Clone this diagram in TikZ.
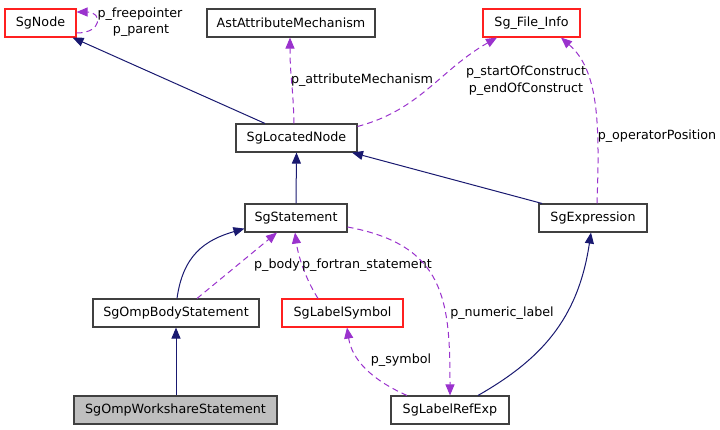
\documentclass[tikz,border=0pt]{standalone}
\usepackage{fontspec}
\setmainfont{DejaVu Sans}
\usetikzlibrary{arrows.meta}
\definecolor{navyc}{HTML}{191970}
\definecolor{purplec}{HTML}{9A32CD}
\definecolor{boxc}{HTML}{404040}
\definecolor{redc}{HTML}{FF2020}
\definecolor{grayfill}{HTML}{BFBFBF}
\begin{document}
\begin{tikzpicture}[x=1pt,y=-1pt,
  every node/.style={font=\fontsize{12.7}{14}\selectfont, inner sep=0pt},
  cls/.style={draw=boxc, line width=1.1pt, minimum height=28pt, fill=white},
  redcls/.style={cls, draw=redc},
  inh/.style={draw=navyc, line width=1pt, -{Triangle[length=11pt,width=9pt]}, color=navyc},
  usage/.style={draw=purplec, line width=1pt, dash pattern=on 6pt off 4pt, -{Triangle[length=11pt,width=9pt]}, color=purplec},
  lbl/.style={text=black}]
\useasboundingbox (0,0) rectangle (720,429);
% nodes
\node[redcls, minimum width=71pt] (sgnode) at (40.5,23) {SgNode};
\node[cls, minimum width=168pt] (ast) at (291,23) {AstAttributeMechanism};
\node[redcls, minimum width=97pt] (finfo) at (531.5,23) {Sg\_File\_Info};
\node[cls, minimum width=121pt] (ln) at (296.5,138) {SgLocatedNode};
\node[cls, minimum width=102pt] (st) at (296,218) {SgStatement};
\node[cls, minimum width=108pt] (ex) at (593,218) {SgExpression};
\node[cls, minimum width=166pt] (omp) at (176,313) {SgOmpBodyStatement};
\node[redcls, minimum width=121pt] (lsym) at (342.5,313) {SgLabelSymbol};
\node[cls, minimum width=203pt, fill=grayfill] (ws) at (175.5,410) {SgOmpWorkshareStatement};
\node[cls, minimum width=118pt] (lre) at (450,410) {SgLabelRefExp};
% coordinates on borders
\coordinate (lnA) at (ln.north -| 265,0);
\coordinate (lnB) at (ln.north -| 294,0);
\coordinate (lnC) at ([yshift=-3pt]ln.north east);
\coordinate (sgB) at ([yshift=-10pt]sgnode.east);
\coordinate (sgT) at ([yshift=11pt]sgnode.east);
\coordinate (astS) at (ast.south -| 290,0);
\coordinate (fiA) at (finfo.south -| 497,0);
\coordinate (fiB) at (finfo.south -| 561,0);
\coordinate (exA) at (ex.north -| 542,0);
\coordinate (exB) at (ex.north -| 597,0);
\coordinate (exS) at (ex.south -| 591,0);
\coordinate (lnS) at (ln.south -| 352,0);
\coordinate (stA) at ([yshift=4pt]st.south west);
\coordinate (stB) at (st.south -| 277,0);
\coordinate (stC) at (st.south -| 295,0);
\coordinate (stD) at ([yshift=-9pt]st.east);
\coordinate (ompA) at (omp.north -| 177,0);
\coordinate (ompB) at (omp.north -| 197,0);
\coordinate (lsA) at (lsym.north -| 318,0);
\coordinate (lsS) at (lsym.south -| 347,0);
\coordinate (lreA) at (lre.north -| 407,0);
\coordinate (lreB) at (lre.north -| 478,0);
% edges
\draw[inh] (lnA) -- ([xshift=-4pt]sgnode.south east);
\draw[usage] (sgB) .. controls +(26,0) and +(26,0) .. (sgT);
\node[lbl] (lfp) at (140,14) {p\_freepointer};
\node[lbl] (lpp) at (141,31) {p\_parent};
\draw[usage] (lnB) .. controls +(-1,-40) and +(0,40) .. (astS);
\node[lbl] (lam) at (362,80) {p\_attributeMechanism};
\draw[usage] (lnC) .. controls (420,110) and (440,70) .. (fiA);
\node[lbl] (lsc) at (526,72) {p\_startOfConstruct};
\node[lbl] (lec) at (526,89) {p\_endOfConstruct};
\draw[usage] (exB) .. controls (600,120) and (598,70) .. (fiB);
\node[lbl] (lop) at (657,136) {p\_operatorPosition};
\draw[inh] (exA) -- (lnS);
\draw[inh] (st.north) -- (ln.south);
\draw[inh] (ompA) .. controls (183,255) and (205,240) .. (stA);
\draw[usage] (ompB) -- (stB);
\node[lbl] (lbody) at (277,265) {p\_body};
\draw[usage] (lsA) .. controls (305,278) and (298,255) .. (stC);
\node[lbl] (lfs) at (367,265) {p\_fortran\_statement};
\draw[usage] (stD) .. controls (445,245) and (450,300) .. (lre.north -| 450,0);
\node[lbl] (lnl) at (502,313) {p\_numeric\_label};
\draw[usage] (lreA) .. controls (372,380) and (352,360) .. (lsS);
\node[lbl] (lsy) at (401,360) {p\_symbol};
\draw[inh] (ws.north -| 176,0) -- (omp.south -| 176,0);
\draw[inh] (lreB) .. controls (540,360) and (578,320) .. (exS);
\end{tikzpicture}
\end{document}
